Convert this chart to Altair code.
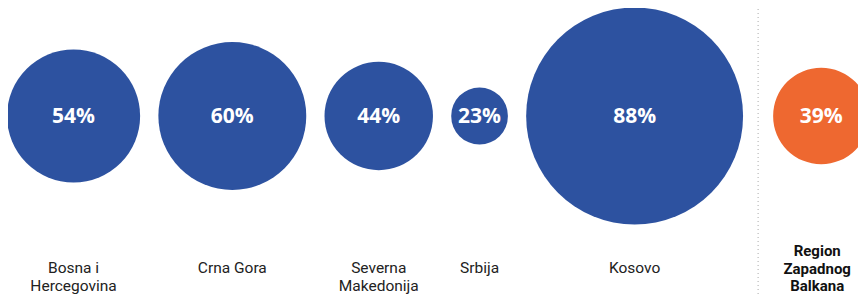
import altair as alt
import pandas as pd

# ---- data ----
labels = ["Bosna i\nHercegovina", "Crna Gora", "Severna\nMakedonija", "Srbija", "Kosovo",
          "Region\nZapadnog\nBalkana"]
values = [54, 60, 44, 23, 88, 39]
groups = ["country", "country", "country", "country", "country", "region"]

# ---- layout constants ----
W, H = 850, 286
PX_PER_UNIT = 2.465        # diameter in px per percentage point
GAP = 7.4                  # gap between circles (in value units)
EXTRA = 4.8                # extra gap before the regional circle
START = 0.4

centers = []
cur = 0.0
divider = None
for v, g in zip(values, groups):
    if g == "region":
        cur += EXTRA
        divider = cur - (GAP + EXTRA) / 2
    centers.append(cur + v / 2)
    cur += v + GAP

df = pd.DataFrame({
    "label": labels,
    "value": values,
    "group": groups,
    "pos": centers,
})
df["pct"] = df["value"].astype(str) + "%"
rule_df = pd.DataFrame({"pos": [divider]})

xscale = alt.Scale(domain=[START, START + W / PX_PER_UNIT], nice=False, zero=False)
x = alt.X("pos:Q", scale=xscale, axis=None)

base = alt.Chart(df)

circles = base.mark_circle(opacity=1).encode(
    x=x,
    y=alt.value(108),
    size=alt.Size("value:Q",
                  scale=alt.Scale(type="pow", exponent=2, domain=[0, 100],
                                  range=[0, (100 * PX_PER_UNIT) ** 2]),
                  legend=None),
    color=alt.Color("group:N",
                    scale=alt.Scale(domain=["country", "region"],
                                    range=["#2D52A0", "#EE6830"]),
                    legend=None),
)

pct = base.mark_text(font="Open Sans", fontSize=21, fontWeight="bold", color="white",
                     baseline="middle", align="center").encode(
    x=x, y=alt.value(109), text="pct:N")

country_labels = base.transform_filter(alt.datum.group == "country").mark_text(
    font="Roboto", fontSize=15.5, color="#222222", lineBreak="\n", lineHeight=17.5,
    baseline="alphabetic", align="center").encode(
    x=x, y=alt.value(265), text="label:N")

region_labels = base.transform_filter(alt.datum.group == "region").mark_text(
    font="Roboto", fontSize=15, fontWeight="bold", color="#111111", lineBreak="\n",
    lineHeight=17.5, baseline="alphabetic", align="center", dx=-4).encode(
    x=x, y=alt.value(248), text="label:N")

rule = alt.Chart(rule_df).mark_rule(color="#AAAAAA", strokeDash=[1, 3], strokeWidth=1).encode(
    x=alt.X("pos:Q", scale=xscale, axis=None),
    y=alt.value(-3),
    y2=alt.value(H),
)

chart = alt.layer(rule, circles, pct, country_labels, region_labels).properties(
    width=W, height=H,
    autosize=alt.AutoSizeParams(type="none"),
    padding=0,
).configure_view(stroke=None)

chart.save("out.html", embed_options={"renderer": "svg", "actions": False})
